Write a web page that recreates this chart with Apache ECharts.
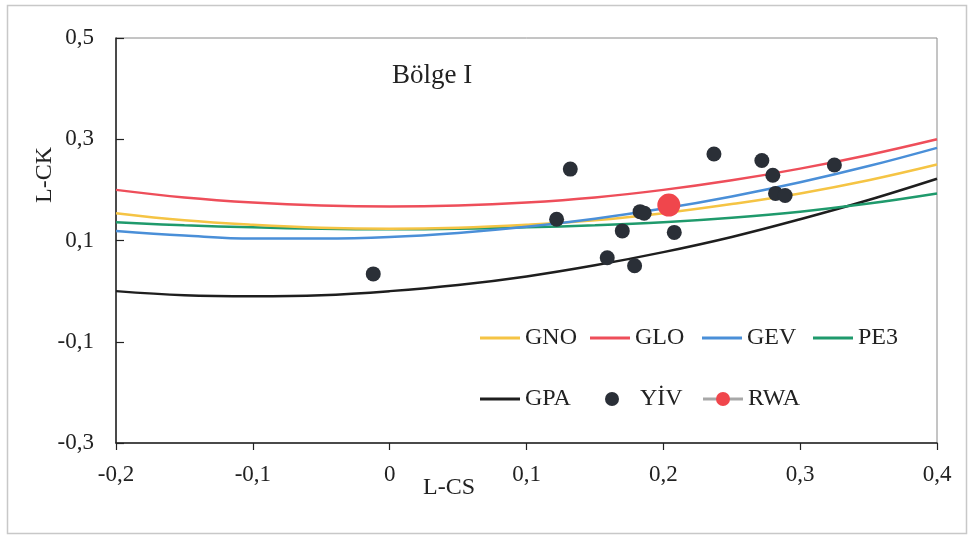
<!DOCTYPE html>
<html>
<head>
<meta charset="utf-8">
<script src="https://cdn.jsdelivr.net/npm/echarts@6/dist/echarts.min.js"></script>
<style>
html,body{margin:0;padding:0;background:#fff;}
#chart{width:970px;height:536px;}
</style>
</head>
<body>
<div id="chart"></div>
<script>
// L-CS values at which the theoretical curves were read
const curveX = [-0.2,-0.15,-0.1,-0.05,0,0.05,0.1,0.15,0.2,0.25,0.3,0.35,0.4];
const gnoY = [0.154,0.140,0.131,0.125,0.123,0.125,0.131,0.140,0.154,0.172,0.193,0.219,0.250];
const gloY = [0.200,0.185,0.175,0.169,0.167,0.169,0.175,0.185,0.200,0.219,0.242,0.269,0.300];
const gevY = [0.119,0.110,0.104,0.104,0.107,0.115,0.127,0.143,0.163,0.187,0.215,0.247,0.283];
const pe3Y = [0.136,0.130,0.126,0.123,0.122,0.123,0.126,0.130,0.136,0.145,0.157,0.173,0.193];
const gpaY = [0.000,-0.008,-0.010,-0.008,0.000,0.012,0.029,0.051,0.077,0.107,0.142,0.180,0.222];
// station points (YİV)
const yivX = [-0.012,0.122,0.132,0.159,0.170,0.179,0.183,0.186,0.208,0.237,0.272,0.280,0.282,0.289,0.325];
const yivY = [0.034,0.142,0.241,0.066,0.119,0.050,0.157,0.154,0.116,0.271,0.258,0.229,0.193,0.189,0.249];
// regional weighted average
const rwaX = [0.204];
const rwaY = [0.170];
const xTitle = 'L-CS';
const yTitle = 'L-CK';
const regionTitle = 'Bölge I';

const FONT = '"Liberation Serif","Times New Roman",serif';
const zip = (xs, ys) => xs.map((x, i) => [x, ys[i]]);
const fmt = v => Math.abs(v) < 1e-9 ? '0' : v.toFixed(1).replace('.', ',');

const curveColors = {GNO:'#f5c444', GLO:'#ee4e5a', GEV:'#4a8fd8', PE3:'#1f9a6c', GPA:'#1e1e1e'};
const curveData = {GNO:gnoY, GLO:gloY, GEV:gevY, PE3:pe3Y, GPA:gpaY};

const series = ['GPA','PE3','GNO','GEV','GLO'].map(n => ({
  name: n, type: 'line', smooth: 0.4, showSymbol: false, symbol: 'none',
  data: zip(curveX, curveData[n]),
  lineStyle: {color: curveColors[n], width: 2.5},
  itemStyle: {color: curveColors[n]},
  z: 2
}));
series.push({
  name: 'YİV', type: 'scatter', data: zip(yivX, yivY),
  symbolSize: 15, itemStyle: {color: '#2a2f37', opacity: 1}, z: 4
});
series.push({
  name: 'RWA', type: 'line', data: zip(rwaX, rwaY),
  symbol: 'circle', symbolSize: 23, showSymbol: true,
  itemStyle: {color: '#f0464c'}, lineStyle: {color: '#a8a8a8', width: 3}, z: 5
});

const textStyle = {fontFamily: FONT, fontSize: 24, color: '#222'};
const lineLegend = (n, l, t) => ({
  data: [{name: n, icon: 'rect'}], left: l, top: t,
  itemWidth: 40, itemHeight: 3, itemGap: 0, padding: 0, textStyle: textStyle,
  itemStyle: {color: curveColors[n]}
});
const legends = [
  lineLegend('GNO', 480, 326), lineLegend('GLO', 590, 326),
  lineLegend('GEV', 702, 326), lineLegend('PE3', 813, 326),
  lineLegend('GPA', 480, 387),
  {data: [{name: 'YİV', icon: 'circle'}], left: 605, top: 387, itemWidth: 14, itemHeight: 14,
   itemGap: 0, padding: 0, textStyle: Object.assign({padding: [0, 0, 0, 16]}, textStyle), itemStyle: {color: '#2a2f37'}},
  {data: [{name: 'RWA', icon: 'rect'}], left: 703, top: 387, itemWidth: 40, itemHeight: 3,
   itemGap: 0, padding: 0, textStyle: textStyle, itemStyle: {color: '#a8a8a8'}},
  {data: [{name: 'RWA', icon: 'circle'}], left: 716, top: 387, itemWidth: 14, itemHeight: 14,
   itemGap: 0, padding: 0, textStyle: {fontFamily: FONT, fontSize: 24, color: 'rgba(0,0,0,0)'},
   itemStyle: {color: '#f0464c'}}
];

const chart = echarts.init(document.getElementById('chart'), null, {renderer: 'canvas'});
chart.setOption({
  animation: false,
  backgroundColor: '#fff',
  grid: {left: 116, right: 33, top: 38, bottom: 93, show: true, borderColor: '#8a8a8a', borderWidth: 1, backgroundColor: 'transparent'},
  legend: legends,
  xAxis: {
    type: 'value', min: -0.2, max: 0.4, interval: 0.1,
    axisLine: {show: true, onZero: false, lineStyle: {color: '#222', width: 1.5}},
    axisTick: {show: true, inside: false, length: 7, lineStyle: {color: '#222', width: 1.2}},
    splitLine: {show: false},
    axisLabel: {formatter: fmt, fontFamily: FONT, fontSize: 23, color: '#222', margin: 20}
  },
  yAxis: {
    type: 'value', min: -0.3, max: 0.5, interval: 0.2,
    axisLine: {show: true, onZero: false, lineStyle: {color: '#222', width: 1.5}},
    axisTick: {show: true, inside: true, length: 8, lineStyle: {color: '#222', width: 1.2}},
    splitLine: {show: false},
    axisLabel: {formatter: fmt, fontFamily: FONT, fontSize: 23, color: '#222', margin: 22}
  },
  graphic: [
    {type: 'rect', left: 5, top: 3, shape: {width: 959, height: 528}, style: {fill: 'none', stroke: '#c8c8c8', lineWidth: 1.5}, silent: true, z: -1},
    {type: 'text', left: 392, top: 62, style: {text: regionTitle, font: '27px ' + FONT, fill: '#222'}},
    {type: 'text', left: 423, top: 476, style: {text: xTitle, font: '24px ' + FONT, fill: '#222'}},
    {type: 'text', x: 45, y: 175, rotation: Math.PI / 2, style: {text: yTitle, font: '24px ' + FONT, fill: '#222', align: 'center', verticalAlign: 'middle'}}
  ],
  series: series
});
</script>
</body>
</html>
